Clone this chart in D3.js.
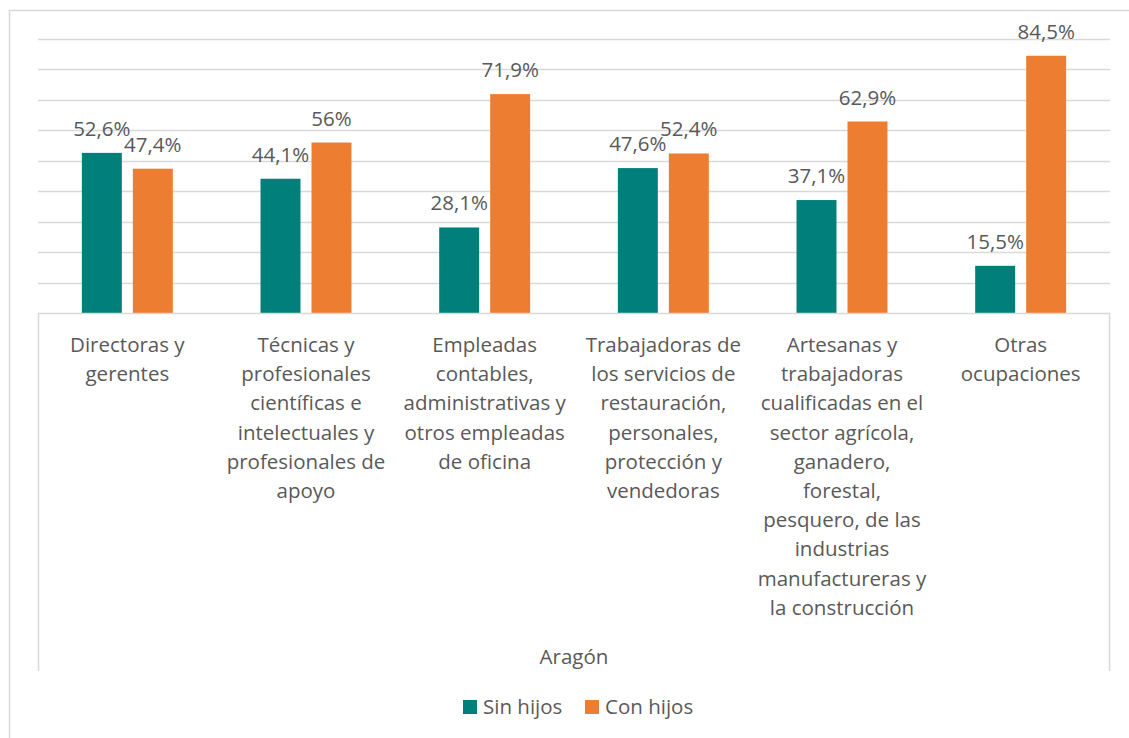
<!DOCTYPE html>
<html>
<head>
<meta charset="utf-8">
<script src="https://d3js.org/d3.v7.min.js"></script>
<style>
  body { margin: 0; background: #fff; }
  text { font-family: "Open Sans", "Noto Sans", sans-serif; fill: #595959; }
</style>
</head>
<body>
<script>

// data
var categories = ["dir", "tec", "emp", "tra", "art", "otr"];
var labelLines = [
  ["Directoras y", "gerentes"],
  ["Técnicas y", "profesionales", "científicas e", "intelectuales y", "profesionales de", "apoyo"],
  ["Empleadas", "contables,", "administrativas y", "otros empleadas", "de oficina"],
  ["Trabajadoras de", "los servicios de", "restauración,", "personales,", "protección y", "vendedoras"],
  ["Artesanas y", "trabajadoras", "cualificadas en el", "sector agrícola,", "ganadero,", "forestal,", "pesquero, de las", "industrias", "manufactureras y", "la construcción"],
  ["Otras", "ocupaciones"]
];
var sinHijos = [52.6, 44.1, 28.1, 47.6, 37.1, 15.5];
var conHijos = [47.4, 56, 71.9, 52.4, 62.9, 84.5];
var seriesNames = ["Sin hijos", "Con hijos"];
var gridTicks = [0, 10, 20, 30, 40, 50, 60, 70, 80, 90];
var groupLabel = "Aragón";

var colors = ["#007f7b", "#ed7d31"];

var W = 1129, H = 738;
var plotLeft = 38, plotRight = 1110, plotTop = 39, base = 313;
var fs = "20.5px";

var svg = d3.select("body").append("svg")
    .attr("width", W)
    .attr("height", H);

// outer chart border
svg.append("rect")
    .attr("x", 9.5).attr("y", 10.5)
    .attr("width", W + 10).attr("height", H + 10)
    .attr("fill", "none")
    .attr("stroke", "#d9d9d9")
    .attr("stroke-width", 1.5);

var x = d3.scaleBand().domain(categories).range([plotLeft, plotRight]);
var y = d3.scaleLinear().domain([0, 90]).range([base, plotTop]);

var xs = d3.scaleBand().domain(seriesNames)
    .range([0, x.bandwidth()])
    .paddingInner(0.216)
    .paddingOuter(0.86);

// gridlines
svg.append("g").selectAll("line")
  .data(gridTicks.slice(1))
  .enter().append("line")
    .attr("x1", plotLeft).attr("x2", plotRight)
    .attr("y1", function(d) { return Math.round(y(d)) + 0.5; })
    .attr("y2", function(d) { return Math.round(y(d)) + 0.5; })
    .attr("stroke", "#d9d9d9")
    .attr("stroke-width", 1.5);

// data rows
var rows = categories.map(function(c, i) {
  return [{cat: c, s: seriesNames[0], v: sinHijos[i]}, {cat: c, s: seriesNames[1], v: conHijos[i]}];
});
var all = d3.merge(rows);

svg.append("g").selectAll("rect")
  .data(all)
  .enter().append("rect")
    .attr("x", function(d) { return x(d.cat) + xs(d.s); })
    .attr("width", xs.bandwidth())
    .attr("y", function(d) { return y(d.v); })
    .attr("height", function(d) { return base - y(d.v); })
    .attr("fill", function(d) { return colors[seriesNames.indexOf(d.s)]; });

// value labels
svg.append("g").selectAll("text")
  .data(all)
  .enter().append("text")
    .attr("x", function(d) { return x(d.cat) + xs(d.s) + xs.bandwidth() / 2; })
    .attr("y", function(d) { return y(d.v) - 17; })
    .attr("text-anchor", "middle")
    .style("font-size", fs)
    .text(function(d) { return String(d.v).replace(".", ",") + "%"; });

// axis box
var axisG = svg.append("g").attr("stroke", "#d9d9d9").attr("stroke-width", 1.5);
axisG.append("line").attr("x1", plotLeft).attr("x2", plotRight).attr("y1", base + 0.5).attr("y2", base + 0.5);
axisG.append("line").attr("x1", plotLeft + 0.5).attr("x2", plotLeft + 0.5).attr("y1", base).attr("y2", 671);
axisG.append("line").attr("x1", plotRight - 0.5).attr("x2", plotRight - 0.5).attr("y1", base).attr("y2", 671);

// category labels
var catG = svg.append("g").selectAll("text")
  .data(categories)
  .enter().append("text")
    .attr("text-anchor", "middle")
    .style("font-size", fs)
    .attr("transform", function(d) { return "translate(" + (x(d) + x.bandwidth() / 2) + ",352)"; });

catG.selectAll("tspan")
  .data(function(d, i) { return labelLines[i]; })
  .enter().append("tspan")
    .attr("x", 0)
    .attr("y", function(d, j) { return j * 29.2; })
    .text(function(d) { return d; });

svg.append("text")
    .attr("x", (plotLeft + plotRight) / 2)
    .attr("y", 664)
    .attr("text-anchor", "middle")
    .style("font-size", fs)
    .text(groupLabel);

// legend
var legend = svg.append("g");
var legX = [463, 585];
seriesNames.forEach(function(s, i) {
  legend.append("rect")
      .attr("x", legX[i]).attr("y", 700)
      .attr("width", 14).attr("height", 14)
      .attr("fill", colors[i]);
  legend.append("text")
      .attr("x", legX[i] + 20).attr("y", 714)
      .style("font-size", fs)
      .text(s);
});

</script>
</body>
</html>
